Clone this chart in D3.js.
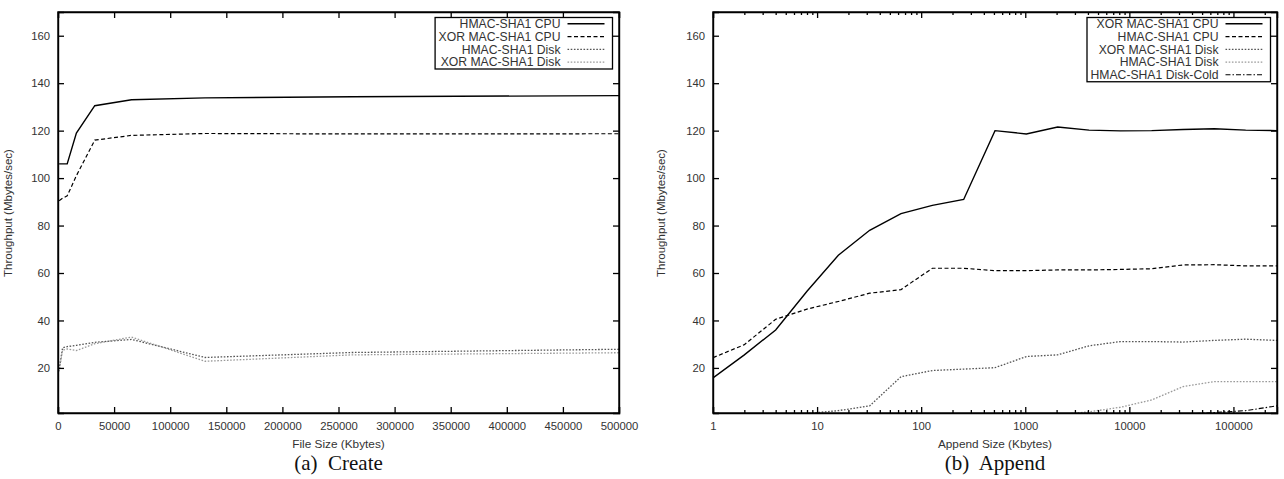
<!DOCTYPE html>
<html><head><meta charset="utf-8">
<script src="https://cdn.jsdelivr.net/npm/d3@7"></script>
<style>
html,body{margin:0;padding:0;background:#fff;}
text{font-family:"Liberation Sans",Arial,sans-serif;fill:#333;}
</style></head>
<body><svg id="c" width="1284" height="479"></svg>
<script>
// ---------- data ----------
const yTicks = [20, 40, 60, 80, 100, 120, 140, 160];
const createTicks = [0, 50000, 100000, 150000, 200000, 250000, 300000, 350000, 400000, 450000, 500000];
const appendTicks = [1, 10, 100, 1000, 10000, 100000];

const createSizes = [1024, 4096, 8192, 16384, 32768, 65536, 131072, 262144, 524288];
const createHmacCpu  = [106, 106, 106, 119, 130.5, 133, 133.8, 134.3, 134.8];
const createXorCpu   = [90.5, 91.5, 92.5, 101, 116, 118, 118.8, 118.6, 118.7];
const createHmacDisk = [19.5, 28.5, 29, 29.5, 30.8, 32, 24.4, 26.5, 28];
const createXorDisk  = [18.5, 27.5, 28, 27.3, 30.2, 33, 22.8, 25.5, 26.5];

const appendSizes = [1, 2, 4, 8, 16, 32, 64, 128, 256, 512, 1024, 2048, 4096, 8192, 16384, 32768, 65536, 131072, 262144];
const appendXorCpu   = [15.8, 25.5, 36, 52.3, 67.5, 78, 85, 88.5, 91, 120, 118.6, 121.5, 120.2, 119.9, 120, 120.5, 120.8, 120.2, 120];
const appendHmacCpu  = [24.3, 29.8, 40.5, 44.8, 48, 51.5, 53, 62, 62, 61, 61, 61.3, 61.3, 61.5, 61.8, 63.4, 63.5, 63, 63];
const appendXorDisk  = [0, 0, 0, 0.8, 2, 4, 16.3, 18.9, 19.5, 20.1, 24.8, 25.5, 29.3, 31.1, 31.1, 30.9, 31.6, 32.1, 31.6];
const appendHmacDisk = [0, 0, 0, 0, 0, 0, 0, 0, 0, 0, 0, 0.3, 1.5, 3.4, 6.5, 12.1, 14.2, 14.2, 14.2];
const appendHmacDiskCold = [0, 0, 0, 0, 0, 0, 0, 0, 0, 0, 0, 0, 0, 0, 0, 0.5, 1.2, 2, 4];

const createNames = ["HMAC-SHA1 CPU", "XOR MAC-SHA1 CPU", "HMAC-SHA1 Disk", "XOR MAC-SHA1 Disk"];
const appendNames = ["XOR MAC-SHA1 CPU", "HMAC-SHA1 CPU", "XOR MAC-SHA1 Disk", "HMAC-SHA1 Disk", "HMAC-SHA1 Disk-Cold"];

// ---------- styles ----------
const S = {
  solid:  {stroke:"#000", w:1.4, dash:null},
  dashed: {stroke:"#000", w:1.2, dash:"4,2.5"},
  dotDark:{stroke:"#555", w:1.3, dash:"1.6,1.6"},
  dotLight:{stroke:"#9a9a9a", w:1.3, dash:"1.6,1.6"},
  dashDot:{stroke:"#000", w:1.1, dash:"5,2,1.5,2"}
};

const svg = d3.select("#c");
const yDomain = [1, 170];

function panel(opt){
  const g = svg.append("g");
  const x = opt.x, y = d3.scaleLinear().domain(yDomain).range([413, 12]);
  const [x0, x1] = x.range();
  const clipId = "clip" + opt.id;
  svg.append("clipPath").attr("id", clipId).append("rect")
    .attr("x", x0).attr("y", 12).attr("width", x1 - x0).attr("height", 401);

  const line = d3.line().x(d => x(d[0])).y(d => y(d[1]));
  opt.series.forEach(s => {
    g.append("path").attr("clip-path", `url(#${clipId})`)
      .attr("d", line(opt.sizes.map((v, i) => [v, s.values[i]])))
      .attr("fill", "none").attr("stroke", s.style.stroke)
      .attr("stroke-width", s.style.w).attr("stroke-dasharray", s.style.dash);
  });

  g.append("g").attr("transform", `translate(${x0},0)`)
    .call(d3.axisLeft(y).tickValues(yTicks).tickSize(-6).tickPadding(8));
  g.append("g").attr("transform", `translate(${x1},0)`)
    .call(d3.axisRight(y).tickValues(yTicks).tickSize(-6).tickFormat(""));
  g.append("g").attr("transform", `translate(0,413)`)
    .call(opt.xAxis(d3.axisBottom(x)).tickSize(-6).tickPadding(9));
  g.append("g").attr("transform", `translate(0,12)`)
    .call(opt.xAxis(d3.axisTop(x)).tickSize(-6).tickFormat(""));
  if (opt.minor) {
    [d3.axisBottom, d3.axisTop].forEach((ax, k) => {
      g.append("g").attr("transform", `translate(0,${k ? 12 : 413})`)
        .call(ax(x).tickValues(opt.minor).tickSize(-3).tickFormat(""))
        .call(a => a.select(".domain").remove());
    });
  }
  g.selectAll(".domain").attr("stroke", "#000").attr("stroke-width", 1.4);
  g.selectAll(".tick line").attr("stroke", "#000").attr("stroke-width", 1.3);
  g.selectAll(".tick text").attr("font-size", 11.3).attr("fill", "#333")
    .attr("font-family", '"Liberation Sans",Arial,sans-serif');
  g.append("rect").attr("x", x0).attr("y", 12).attr("width", x1 - x0).attr("height", 401)
    .attr("fill", "none").attr("stroke", "#000").attr("stroke-width", 1.4);

  const cx = (x0 + x1) / 2;
  g.append("text").attr("transform", `translate(${opt.yTitleX},213) rotate(-90)`)
    .attr("text-anchor", "middle").attr("font-size", 11.5).text("Throughput (Mbytes/sec)");
  g.append("text").attr("x", cx).attr("y", 448).attr("text-anchor", "middle")
    .attr("font-size", 11.8).text(opt.xTitle);
  g.append("text").attr("x", cx).attr("y", 470).attr("text-anchor", "middle")
    .attr("font-size", 21).style("font-family", '"Liberation Serif","Times New Roman",serif')
    .style("white-space", "pre").style("fill", "#111").text(opt.caption);

  const n = opt.series.length;
  const lg = g.append("g");
  const bx1 = x1 - 6.5, rowH = 12.75, top = 17.5;
  const bh = n * rowH + 0.5;
  const box = lg.append("rect").attr("y", top).attr("height", bh)
    .attr("fill", "#fff").attr("stroke", "#000").attr("stroke-width", 1.3);
  let minX = Infinity;
  opt.series.forEach((s, i) => {
    const cy = top + 6.3 + i * rowH;
    const t = lg.append("text").attr("x", bx1 - 52).attr("y", cy).attr("dy", "0.35em")
      .attr("text-anchor", "end").attr("font-size", 12.2).text(s.name);
    minX = Math.min(minX, t.node().getBBox().x);
    lg.append("line").attr("x1", bx1 - 45).attr("x2", bx1 - 8).attr("y1", cy).attr("y2", cy)
      .attr("stroke", s.style.stroke).attr("stroke-width", s.style.w)
      .attr("stroke-dasharray", s.style.dash);
  });
  box.attr("x", minX - 3.5).attr("width", bx1 - minX + 3.5);
}

panel({
  id: "a",
  x: d3.scaleLinear().domain([0, 500000]).range([58, 619]),
  xAxis: a => a.tickValues(createTicks).tickFormat(d3.format("d")),
  sizes: createSizes,
  series: [
    {name: createNames[0], values: createHmacCpu, style: S.solid},
    {name: createNames[1], values: createXorCpu, style: S.dashed},
    {name: createNames[2], values: createHmacDisk, style: S.dotDark},
    {name: createNames[3], values: createXorDisk, style: S.dotLight}
  ],
  yTitleX: 12, xTitle: "File Size (Kbytes)", caption: "(a)  Create"
});

const minorTicks = [];
for (let p = 1; p <= 100000; p *= 10) for (let k = 2; k <= 9; k++) if (p * k <= 262144) minorTicks.push(p * k);
panel({
  id: "b",
  x: d3.scaleLog().domain([1, 262144]).range([713, 1277]),
  xAxis: a => a.tickValues(appendTicks).tickFormat(d3.format("d")),
  minor: minorTicks,
  sizes: appendSizes,
  series: [
    {name: appendNames[0], values: appendXorCpu, style: S.solid},
    {name: appendNames[1], values: appendHmacCpu, style: S.dashed},
    {name: appendNames[2], values: appendXorDisk, style: S.dotDark},
    {name: appendNames[3], values: appendHmacDisk, style: S.dotLight},
    {name: appendNames[4], values: appendHmacDiskCold, style: S.dashDot}
  ],
  yTitleX: 665, xTitle: "Append Size (Kbytes)", caption: "(b)  Append"
});
</script></body></html>
